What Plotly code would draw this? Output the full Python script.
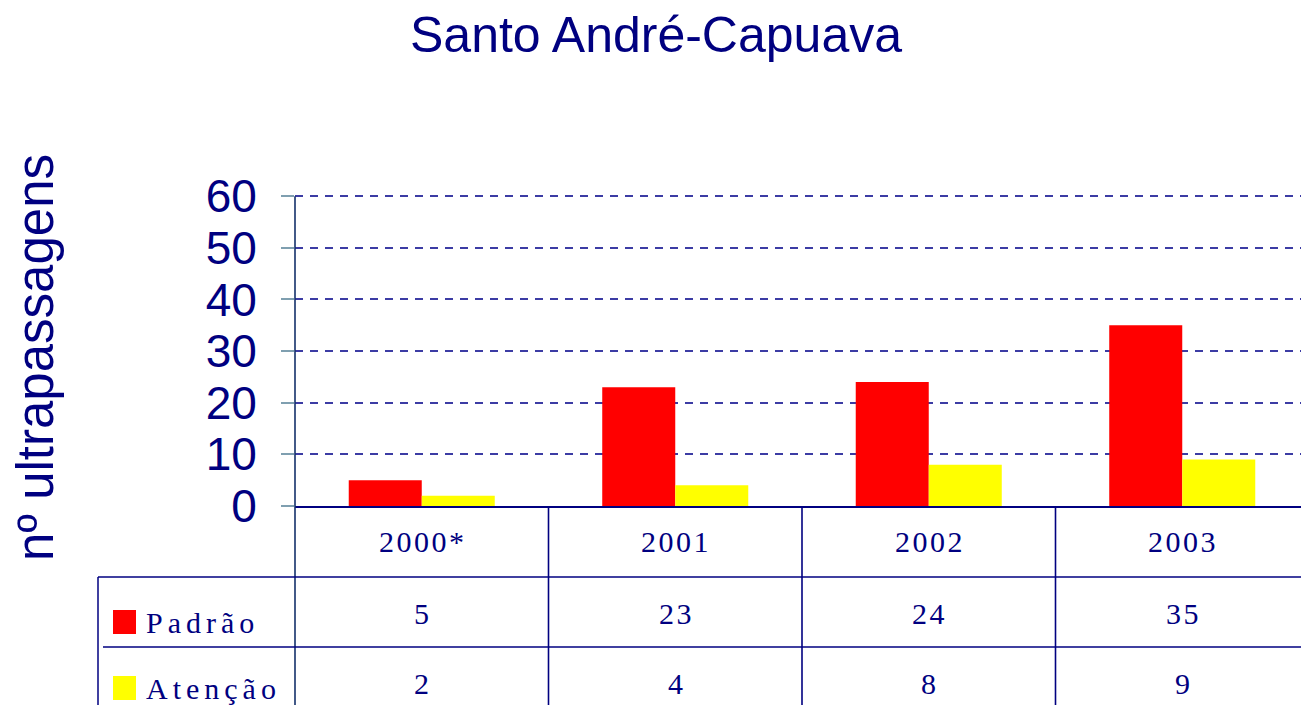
import plotly.graph_objects as go

# ---- data ----
categories = ["2000*", "2001", "2002", "2003"]
padrao = [5, 23, 24, 35]
atencao = [2, 4, 8, 9]
series_names = ["Padrão", "Atenção"]
y_ticks = [0, 10, 20, 30, 40, 50, 60]

# ---- styling ----
NAVY = "#000080"
RED = "#FF0000"
YELLOW = "#FFFF00"
OFF = 8  # default page body margin
W, H = 1309 - OFF, 705 - OFF
Y_MAX = 61
# plot area in viewport pixels: x 295..1309, y 191..506 (value 60 sits at y 196)
L, R, T, B = 295 - OFF, 0, 191 - OFF, 705 - 506
PW, PH = W - L - R, H - T - B

def px_x(p):  # viewport pixel -> paper x
    return (p - OFF - L) / PW

def px_y(p):  # viewport pixel -> paper y
    return (H - B - (p - OFF)) / PH

def spaced(s, sep):
    return sep.join(list(s))

fig = go.Figure()
fig.add_trace(go.Bar(x=categories, y=padrao, name=series_names[0],
                     marker=dict(color=RED, line=dict(width=0))))
fig.add_trace(go.Bar(x=categories, y=atencao, name=series_names[1],
                     marker=dict(color=YELLOW, line=dict(width=0))))

shapes = []
annotations = []

n = len(categories)
# y-axis line (from top tick down through the table), paper-referenced so it isn't clipped
shapes.append(dict(type="line", xref="paper", yref="paper", x0=0, x1=0,
                   y0=y_ticks[-1] / Y_MAX, y1=px_y(720),
                   line=dict(color="#13306a", width=1.6)))
# table vertical lines (column boundaries)
for i in range(1, n):
    xb = i - 0.5
    shapes.append(dict(type="line", xref="x", yref="paper", x0=xb, x1=xb,
                       y0=0, y1=px_y(720), line=dict(color=NAVY, width=1.6)))
# table left border
shapes.append(dict(type="line", xref="paper", yref="paper", x0=px_x(98), x1=px_x(98),
                   y0=px_y(577), y1=px_y(720), line=dict(color=NAVY, width=1.5)))
# row lines
for yy, x0 in [(577, 98), (647, 103)]:
    shapes.append(dict(type="line", xref="paper", yref="paper", x0=px_x(x0), x1=1.0,
                       y0=px_y(yy), y1=px_y(yy), line=dict(color=NAVY, width=1.5)))

hair = "\u200a"
six = "\u2006"
# header row
for i, c in enumerate(categories):
    annotations.append(dict(xref="x", yref="paper", x=i, y=px_y(541),
                            text=spaced(c, hair), showarrow=False,
                            font=dict(family="Liberation Serif", size=30, color=NAVY),
                            xanchor="center", yanchor="middle"))
# value rows
for vals, yy in [(padrao, 613), (atencao, 683)]:
    for i, v in enumerate(vals):
        annotations.append(dict(xref="x", yref="paper", x=i, y=px_y(yy),
                                text=spaced(str(v), hair), showarrow=False,
                                font=dict(family="Liberation Serif", size=30, color=NAVY),
                                xanchor="center", yanchor="middle"))
# legend keys + labels
for name, col, yc in [(series_names[0], RED, 622), (series_names[1], YELLOW, 688)]:
    shapes.append(dict(type="rect", xref="paper", yref="paper",
                       x0=px_x(113), x1=px_x(136), y0=px_y(yc - 12), y1=px_y(yc + 12),
                       fillcolor=col, line=dict(width=0)))
    annotations.append(dict(xref="paper", yref="paper", x=px_x(144), y=px_y(yc),
                            text=spaced(name, six), showarrow=False,
                            font=dict(family="Liberation Serif", size=30, color=NAVY),
                            xanchor="left", yanchor="middle"))

# title
annotations.append(dict(xref="paper", yref="paper", x=px_x(656), y=px_y(35),
                        text="Santo André-Capuava", showarrow=False, borderpad=0,
                        font=dict(family="Liberation Sans", size=50, color=NAVY),
                        xanchor="center", yanchor="middle"))
# y-axis title
annotations.append(dict(xref="paper", yref="paper", x=px_x(35), y=px_y(358),
                        text="nº ultrapassagens", showarrow=False, textangle=-90,
                        font=dict(family="Liberation Sans", size=51, color=NAVY),
                        xanchor="center", yanchor="middle"))

fig.update_layout(
    width=W, height=H,
    margin=dict(l=L, r=R, t=T, b=B, pad=0),
    paper_bgcolor="white", plot_bgcolor="white",
    barmode="group", bargap=0.424, bargroupgap=0,
    showlegend=False,
    shapes=shapes, annotations=annotations,
    xaxis=dict(showticklabels=False, ticks="", showgrid=False, zeroline=False,
               showline=True, linecolor=NAVY, linewidth=1.5,
               range=[-0.5, n - 0.5]),
    yaxis=dict(range=[0, Y_MAX], tickvals=y_ticks, ticks="outside", ticklen=13,
               tickcolor="#7f9fb0", tickwidth=1.5,
               showline=False,
               showgrid=True, gridcolor="#3c3ca4", gridwidth=1.5, griddash="8px,7px",
               zeroline=False, ticklabelstandoff=15,
               tickfont=dict(family="Liberation Sans", size=46, color=NAVY)),
)

fig.write_html("out.html")
